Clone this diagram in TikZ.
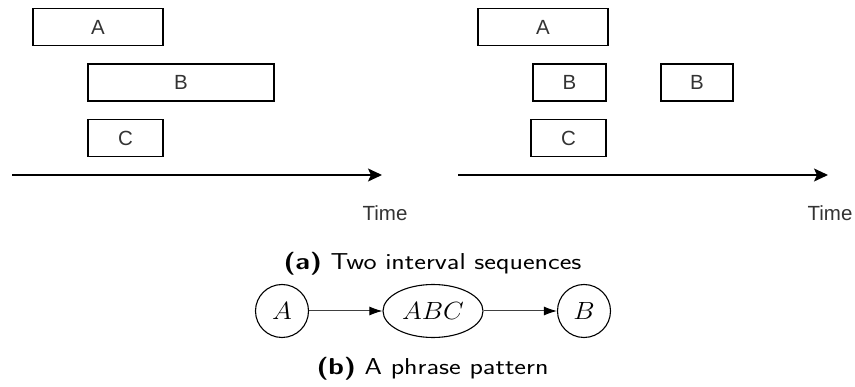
\documentclass[tikz,border=0pt]{standalone}
\usepackage{fontspec}
\usepackage{graphicx}
\newfontfamily\arialf{Liberation Sans}
\usetikzlibrary{arrows.meta,shapes.geometric}
\newcommand{\wcap}[1]{\scalebox{1.21}[1]{#1}}
\newcommand{\wmath}[1]{\scalebox{1.08}[1]{#1}}
\begin{document}
\begin{tikzpicture}[x=1pt,y=-1pt,
  ivbox/.style={draw=black,line width=1.4pt,rectangle,inner sep=0pt,
    minimum height=37pt,font=\arialf\fontsize{20.5}{22}\selectfont,text=black!80},
  axis/.style={line width=1.5pt,-{Stealth[length=14pt,width=13pt,inset=3pt]}},
  timelbl/.style={font=\arialf\fontsize{20.5}{22}\selectfont,text=black!80},
  capt/.style={font=\sffamily\fontsize{23}{27}\selectfont},
  pnode/.style={draw=black,line width=1.1pt,inner sep=0pt,font=\fontsize{23}{27}\selectfont},
  parr/.style={line width=1pt,draw=black!75,-{Latex[length=13pt,width=9pt,black]}}]
\useasboundingbox (0,0) rectangle (855,387);
% left panel
\node[ivbox,minimum width=130pt] (lA) at (98,27) {A};
\node[ivbox,minimum width=186pt] (lB) at (181,82.5) {B};
\node[ivbox,minimum width=75pt] (lC) at (125.5,138) {C};
\coordinate (ls) at (12,175);
\coordinate (le) at (382,175);
\draw[axis] (ls) -- (le);
\node[timelbl] (lt) at (385,213) {Time};
% right panel
\node[ivbox,minimum width=130pt] (rA) at (543,27) {A};
\node[ivbox,minimum width=73pt] (rB1) at (569.5,82.5) {B};
\node[ivbox,minimum width=72pt] (rB2) at (697,82.5) {B};
\node[ivbox,minimum width=75pt] (rC) at (568.5,138) {C};
\coordinate (rs) at (458,175);
\coordinate (re) at (828,175);
\draw[axis] (rs) -- (re);
\node[timelbl] (rt) at (830,213) {Time};
% captions
\node[capt] (ca) at (432.5,264) {\wcap{\textbf{(a)} Two interval sequences}};
\node[capt] (cb) at (432.5,369) {\wcap{\textbf{(b)} A phrase pattern}};
% phrase pattern
\node[pnode,circle,minimum size=53pt] (pA) at (282,311) {\wmath{$A$}};
\node[pnode,ellipse,minimum width=100pt,minimum height=53pt] (pABC) at (433,311) {\wmath{$ABC$}};
\node[pnode,circle,minimum size=53pt] (pB) at (584,311) {\wmath{$B$}};
\draw[parr] (pA) -- (pABC);
\draw[parr] (pABC) -- (pB);
\end{tikzpicture}
\end{document}
